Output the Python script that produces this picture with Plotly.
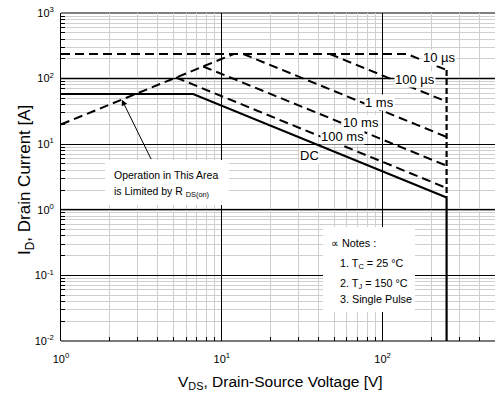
import math
import plotly.graph_objects as go

# ---------------- data ----------------
# R_DS(on) limit line
v_rds = [1, 11.85]
i_rds = [20, 237]
# pulse-width limited boundaries
v_10us = [1, 142, 250]
i_10us = [237, 237, 135]
v_100us = [47, 250]
i_100us = [237, 44.6]
v_1ms = [13.6, 250]
i_1ms = [237, 12.9]
v_10ms = [7.66, 250]
i_10ms = [153, 4.7]
v_100ms = [5.18, 250]
i_100ms = [104, 2.15]
# DC boundary
v_dc = [1, 6.63, 250]
i_dc = [58, 58, 1.54]
# BV_DSS limit (250 V)
v_bv = [250, 250]
i_bv_dash = [135, 1.54]
i_bv_solid = [1.54, 0.01]

curve_labels = ["10 µs", "100 µs", "1 ms", "10 ms", "100 ms", "DC"]
curve_label_v = [226, 160, 95.7, 73.5, 56.0, 35.2]
curve_label_i = [213, 95.3, 42.5, 21.8, 12.9, 6.84]

x_ticks = [1, 10, 100]
x_ticktext = ["10<sup>0</sup>", "10<sup>1</sup>", "10<sup>2</sup>"]
y_ticks = [0.01, 0.1, 1, 10, 100, 1000]
y_ticktext = ["10<sup>-2</sup>", "10<sup>-1</sup>", "10<sup>0</sup>",
              "10<sup>1</sup>", "10<sup>2</sup>", "10<sup>3</sup>"]

notes = ["∝ Notes :", "1. T<sub>C</sub> = 25 °C", "2. T<sub>J</sub> = 150 °C", "3. Single Pulse"]

FONT = "Liberation Sans, Arial, sans-serif"
DASH = "9px,5px"

fig = go.Figure()


def add_line(v, i, dash, width=2):
    fig.add_trace(go.Scatter(x=v, y=i, mode="lines",
                             line=dict(color="black", width=width, dash=dash),
                             showlegend=False, hoverinfo="skip"))


add_line(v_rds, i_rds, DASH)
add_line(v_10us, i_10us, DASH)
add_line(v_100us, i_100us, DASH)
add_line(v_1ms, i_1ms, DASH)
add_line(v_10ms, i_10ms, DASH)
add_line(v_100ms, i_100ms, DASH)
add_line(v_dc, i_dc, "solid", 2)
add_line(v_bv, i_bv_dash, "6px,3px", 2.2)
add_line(v_bv, i_bv_solid, "solid", 2.2)

# axes
x_minor = [m * 10 ** d for d in range(0, 3) for m in range(2, 10) if m * 10 ** d <= 500]
y_minor = [m * 10 ** d for d in range(-2, 3) for m in range(2, 10)]

fig.update_xaxes(type="log", range=[0, math.log10(500)],
                 tickmode="array", tickvals=x_ticks, ticktext=x_ticktext,
                 ticks="", showgrid=True, gridcolor="black", gridwidth=1,
                 showline=False, zeroline=False,
                 tickfont=dict(family=FONT, size=11, color="black"),
                 ticklabelstandoff=10,
                 minor=dict(tickmode="array", tickvals=x_minor, ticks="inside",
                            ticklen=4, tickcolor="black", tickwidth=1,
                            showgrid=True, gridcolor="#cfcfcf", gridwidth=1))
fig.update_yaxes(type="log", range=[-2, 3],
                 tickmode="array", tickvals=y_ticks, ticktext=y_ticktext,
                 ticks="", showgrid=True, gridcolor="black", gridwidth=1,
                 showline=True, linecolor="black", linewidth=1, zeroline=False,
                 tickfont=dict(family=FONT, size=11, color="black"),
                 ticklabelstandoff=4,
                 minor=dict(tickmode="array", tickvals=y_minor, ticks="inside",
                            ticklen=4, tickcolor="black", tickwidth=1,
                            showgrid=True, gridcolor="#cfcfcf", gridwidth=1))

shapes = []
# emphasized gray decade lines (10^2, 10^0 and bottom edge) and black top edge
for yp in [0.8, 0.4, 0.0]:
    shapes.append(dict(type="line", xref="paper", yref="paper", x0=0, x1=1, y0=yp, y1=yp,
                       line=dict(color="#7a7a7a", width=2), layer="between"))
shapes.append(dict(type="line", xref="paper", yref="paper", x0=0, x1=1, y0=1, y1=1,
                   line=dict(color="black", width=1), layer="between"))


def px2paper_x(px):
    return (px - 61) / 434.0


def px2paper_y(py):
    return (341 - py) / 328.0


# white boxes for the text blocks
shapes.append(dict(type="rect", xref="paper", yref="paper",
                   x0=px2paper_x(105), x1=px2paper_x(229), y0=px2paper_y(205), y1=px2paper_y(160),
                   fillcolor="white", line=dict(width=0), layer="above"))
shapes.append(dict(type="rect", xref="paper", yref="paper",
                   x0=px2paper_x(323), x1=px2paper_x(415), y0=px2paper_y(312), y1=px2paper_y(227),
                   fillcolor="white", line=dict(width=0), layer="above"))

annotations = []
for txt, v, i in zip(curve_labels, curve_label_v, curve_label_i):
    annotations.append(dict(x=math.log10(v), y=math.log10(i), xref="x", yref="y",
                            text=txt, showarrow=False, bgcolor="white", borderpad=0,
                            font=dict(family=FONT, size=13, color="black")))

# arrow pointing at the R_DS(on) line
annotations.append(dict(x=math.log10(2.39), y=math.log10(47.8), xref="x", yref="y",
                        text="", showarrow=True, ax=30, ay=61, axref="pixel", ayref="pixel",
                        arrowhead=2, arrowsize=1.2, arrowwidth=1, arrowcolor="black"))
annotations.append(dict(x=px2paper_x(112), y=px2paper_y(175), xref="paper", yref="paper",
                        xanchor="left", yanchor="middle", showarrow=False,
                        text="Operation in This Area",
                        font=dict(family=FONT, size=10.5, color="black")))
annotations.append(dict(x=px2paper_x(112), y=px2paper_y(192), xref="paper", yref="paper",
                        xanchor="left", yanchor="middle", showarrow=False,
                        text="is Limited by R <sub>DS(on)</sub>",
                        font=dict(family=FONT, size=10.5, color="black")))

note_x = [329, 338, 338, 338]
note_y = [243, 264, 284, 299]
for txt, nx, ny in zip(notes, note_x, note_y):
    annotations.append(dict(x=px2paper_x(nx), y=px2paper_y(ny), xref="paper", yref="paper",
                            xanchor="left", yanchor="middle", showarrow=False, text=txt,
                            font=dict(family=FONT, size=10.8, color="black")))

# axis titles
annotations.append(dict(x=px2paper_x(280), y=px2paper_y(382), xref="paper", yref="paper",
                        xanchor="center", yanchor="middle", showarrow=False,
                        text="V<sub>DS</sub>, Drain-Source Voltage [V]",
                        font=dict(family=FONT, size=15.5, color="black")))
annotations.append(dict(x=px2paper_x(26), y=px2paper_y(180), xref="paper", yref="paper",
                        xanchor="center", yanchor="middle", showarrow=False, textangle=-90,
                        text="I<sub>D</sub>, Drain Current [A]",
                        font=dict(family=FONT, size=17, color="black")))

fig.update_layout(width=495, height=400, margin=dict(l=61, r=0, t=13, b=59),
                  paper_bgcolor="white", plot_bgcolor="white", showlegend=False,
                  font=dict(family=FONT, color="black"),
                  shapes=shapes, annotations=annotations)

fig.write_html("out.html")
